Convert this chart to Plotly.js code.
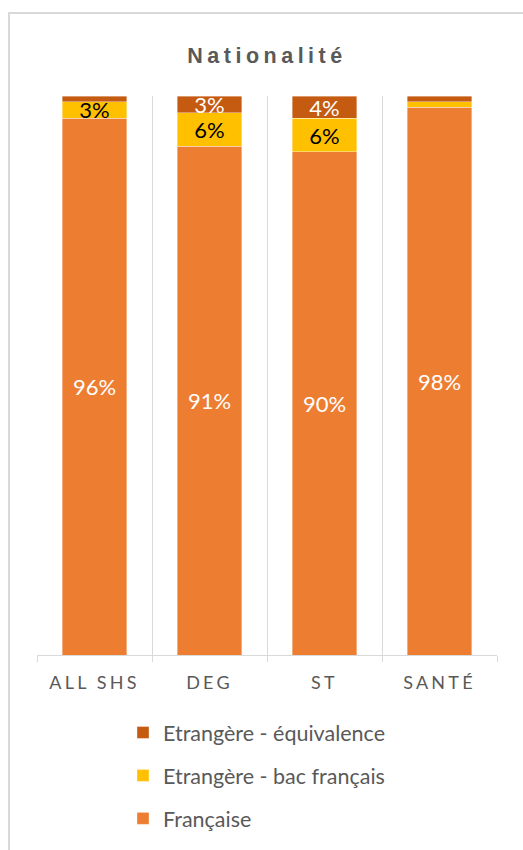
<!DOCTYPE html>
<html>
<head>
<meta charset="utf-8">
<script src="https://cdn.plot.ly/plotly-3.0.1.min.js"></script>
<style>
  html, body { margin: 0; padding: 0; background: #ffffff; }
  #frame { position: absolute; left: 8px; top: 12px; width: 560px; height: 900px; border: 2px solid #D9D9D9; box-sizing: border-box; }
  #chart { position: absolute; left: 0; top: 0; width: 523px; height: 850px; }
  .xtick text { letter-spacing: 3.2px; }
  .gtitle { letter-spacing: 4.5px; }
</style>
</head>
<body>
<div id="frame"></div>
<div id="chart"></div>
<script>
const categories = ['ALL SHS', 'DEG', 'ST', 'SANTÉ'];
const francaise = [96, 91, 90, 98];
const bacFrancais = [3, 6, 6, 1];
const equivalence = [1, 3, 4, 1];
const francaiseLabels = ['96%', '91%', '90%', '98%'];
const bacLabels = ['3%', '6%', '6%', ''];
const equivLabels = ['', '3%', '4%', ''];
const seriesNames = ['Française', 'Etrangère - bac français', 'Etrangère - équivalence'];
const colors = ['#ED7D31', '#FFC000', '#C55A11'];
const labelColors = ['#FFFFFF', '#000000', '#FFFFFF'];

const FONT = 'Lato, "Noto Sans", sans-serif';
const values = [francaise, bacFrancais, equivalence];
const labels = [francaiseLabels, bacLabels, equivLabels];

const traces = values.map((v, i) => ({
  type: 'bar',
  name: seriesNames[i],
  x: categories,
  y: v,
  text: labels[i],
  textposition: 'inside',
  insidetextanchor: 'middle',
  textangle: 0,
  constraintext: 'none',
  textfont: { family: FONT, size: 22, color: labelColors[i] },
  marker: { color: colors[i], line: { width: 0.75, color: 'rgba(255,255,255,0.5)' } },
  legendgroup: 'g' + i,
  legendrank: 3 - i,
  hoverinfo: 'skip'
}));

const layout = {
  width: 523,
  height: 850,
  paper_bgcolor: 'rgba(0,0,0,0)',
  plot_bgcolor: 'rgba(0,0,0,0)',
  margin: { l: 37, r: 26, t: 96, b: 195, autoexpand: false },
  barmode: 'stack',
  bargap: 0.443,
  showlegend: true,
  title: {
    text: '<b>Nationalité</b>',
    font: { family: '"Liberation Sans", Arial, sans-serif', size: 21.5, color: '#595959' },
    x: 0.5, xref: 'paper', xanchor: 'center',
    y: 1 - 55 / 850, yref: 'container', yanchor: 'middle'
  },
  xaxis: {
    type: 'category',
    showgrid: true,
    gridcolor: '#D9D9D9',
    gridwidth: 1,
    tickson: 'boundaries',
    ticks: 'outside',
    ticklen: 6,
    tickcolor: '#D9D9D9',
    showline: true,
    linecolor: '#D9D9D9',
    linewidth: 1,
    tickangle: 0,
    ticklabelstandoff: 11,
    automargin: false,
    tickfont: { family: FONT, size: 18, color: '#595959' },
    fixedrange: true
  },
  yaxis: {
    range: [0, 100],
    visible: false,
    showgrid: false,
    zeroline: false,
    automargin: false,
    fixedrange: true
  },
  legend: {
    orientation: 'v',
    traceorder: 'grouped',
    tracegroupgap: 12,
    x: (123 - 37) / 460, xref: 'paper', xanchor: 'left',
    y: -(712 - 655) / 559, yref: 'paper', yanchor: 'top',
    font: { family: FONT, size: 21.5, color: '#595959' },
    bgcolor: 'rgba(0,0,0,0)'
  }
};

Plotly.newPlot('chart', traces, layout, { displayModeBar: false, staticPlot: true });
</script>
</body>
</html>
